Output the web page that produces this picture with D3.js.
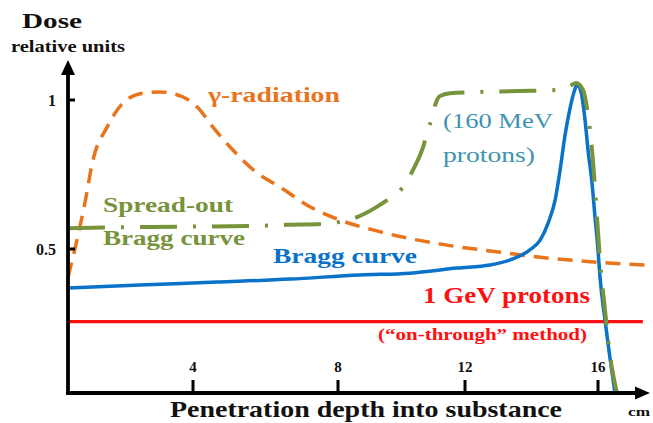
<!DOCTYPE html>
<html>
<head>
<meta charset="utf-8">
<script src="https://cdn.jsdelivr.net/npm/d3@7"></script>
<style>
  html, body { margin: 0; padding: 0; background: #fff; }
  svg { display: block; }
  text { font-family: "Liberation Serif", "Times New Roman", serif; }
</style>
</head>
<body>
<svg id="chart" width="653" height="423"></svg>
<script>
// ---------------- DATA ----------------
// depth (cm) tick labels and y tick labels
const xTicks = [4, 8, 12, 16];
const yTicks = [0.5, 1];

// Bragg curve (160 MeV protons)
const braggDepth = [0, 2.30, 4.66, 6.68, 8.69, 10.27, 11.75, 12.75, 13.35, 13.95, 14.26, 14.50, 14.71, 14.86, 15.01, 15.16, 15.28, 15.37, 15.49, 15.61, 15.70, 15.82, 15.91, 16.00, 16.06, 16.21, 16.36, 16.51];
const braggDose  = [0.369, 0.379, 0.389, 0.399, 0.413, 0.419, 0.436, 0.446, 0.463, 0.497, 0.530, 0.587, 0.664, 0.765, 0.883, 0.973, 1.027, 1.050, 1.027, 0.933, 0.832, 0.721, 0.607, 0.497, 0.406, 0.262, 0.134, 0.017];

// gamma radiation
const gammaDepth = [0, 0.16, 0.38, 0.54, 0.80, 1.25, 1.76, 2.40, 2.94, 3.68, 4.11, 4.55, 5.10, 5.77, 6.40, 7.14, 8.06, 9.10, 10.17, 11.43, 13.0, 14.20, 15.46, 16.30, 17.50];
const gammaDose  = [0.406, 0.473, 0.574, 0.654, 0.799, 0.909, 0.990, 1.023, 1.027, 1.010, 0.977, 0.909, 0.832, 0.755, 0.708, 0.648, 0.597, 0.564, 0.537, 0.513, 0.490, 0.473, 0.460, 0.453, 0.446];

// spread-out Bragg curve
const sobpDepth = [0, 2.62, 5.57, 6.59, 7.56, 8.06, 8.60, 9.17, 9.64, 10.05, 10.36, 10.68, 10.83, 10.96, 11.06, 11.21, 11.53, 12.45, 13.65, 14.77, 15.16, 15.34, 15.55, 15.70, 15.82, 15.97, 16.06, 16.21, 16.36, 16.57];
const sobpDose  = [0.570, 0.574, 0.577, 0.581, 0.584, 0.591, 0.607, 0.638, 0.671, 0.708, 0.765, 0.842, 0.899, 0.940, 0.983, 1.013, 1.023, 1.027, 1.030, 1.034, 1.047, 1.057, 1.034, 0.950, 0.832, 0.607, 0.463, 0.295, 0.144, 0.017];

// 1 GeV protons
const gevDepth = [0, 17.35];
const gevDose  = [0.256, 0.256];

// ---------------- LAYOUT ----------------
const axisX = 68, axisY = 393, axisTop = 60, axisRight = 650;
const svg = d3.select("#chart");

const x = d3.scaleLinear().domain([0, 4, 8, 12, 16]).range([68, 193, 338, 465, 598]);
const y = d3.scaleLinear().domain([0, 1]).range([398, 100]);

const colors = {
  orange: "#E8741C",
  green: "#77933C",
  blue: "#0A72C8",
  red: "#FF1010",
  teal: "#3E93AE"
};

const zip = (a, b) => a.map((d, i) => [d, b[i]]);
const line = d3.line().x(d => x(d[0])).y(d => y(d[1])).curve(d3.curveMonotoneX);

// red line
svg.append("path").datum(zip(gevDepth, gevDose)).attr("d", d3.line().x(d => x(d[0])).y(d => y(d[1])))
  .attr("fill", "none").attr("stroke", colors.red).attr("stroke-width", 3.2);

// gamma dashed
svg.append("path").datum(zip(gammaDepth, gammaDose)).attr("d", line)
  .attr("fill", "none").attr("stroke", colors.orange).attr("stroke-width", 3.5)
  .attr("stroke-dasharray", "15,9");

// bragg
svg.append("path").datum(zip(braggDepth, braggDose)).attr("d", line)
  .attr("fill", "none").attr("stroke", colors.blue).attr("stroke-width", 3.5);

// SOBP dash-dot
svg.append("path").datum(zip(sobpDepth, sobpDose)).attr("d", line)
  .attr("fill", "none").attr("stroke", colors.green).attr("stroke-width", 4)
  .attr("stroke-dasharray", "37,16,3,16");

// ---------------- AXES ----------------
const ax = svg.append("g");
ax.append("line").attr("x1", axisX).attr("x2", axisX).attr("y1", axisTop + 12).attr("y2", axisY + 2)
  .attr("stroke", "#000").attr("stroke-width", 3.8);
ax.append("line").attr("x1", axisX - 2).attr("x2", axisRight - 13).attr("y1", axisY).attr("y2", axisY)
  .attr("stroke", "#000").attr("stroke-width", 3.8);
ax.append("path").attr("d", `M${axisX},${axisTop} L${axisX - 7},${axisTop + 15} L${axisX + 7},${axisTop + 15} Z`).attr("fill", "#000");
ax.append("path").attr("d", `M${axisRight},${axisY} L${axisRight - 15},${axisY - 6.5} L${axisRight - 15},${axisY + 6.5} Z`).attr("fill", "#000");

// x ticks
xTicks.forEach(t => {
  ax.append("line").attr("x1", x(t)).attr("x2", x(t)).attr("y1", axisY - 13).attr("y2", axisY)
    .attr("stroke", "#000").attr("stroke-width", 3);
  ax.append("text").attr("x", x(t)).attr("y", 372).attr("text-anchor", "middle")
    .attr("font-size", 15).attr("font-weight", "bold").attr("fill", "#111").text(t);
});
// y ticks
yTicks.forEach(t => {
  ax.append("line").attr("x1", axisX).attr("x2", axisX + 7).attr("y1", y(t)).attr("y2", y(t))
    .attr("stroke", "#000").attr("stroke-width", 3);
  ax.append("text").attr("x", 56).attr("y", y(t) + 5.5).attr("text-anchor", "end")
    .attr("font-size", 16).attr("font-weight", "bold").attr("fill", "#111").text(t);
});

// ---------------- TEXT ----------------
function label(txt, xx, yy, size, color, weight, len) {
  const t = svg.append("text").attr("x", xx).attr("y", yy).attr("font-size", size)
    .attr("font-weight", weight).attr("fill", color).text(txt);
  if (len) t.attr("textLength", len).attr("lengthAdjust", "spacingAndGlyphs");
  return t;
}
label("Dose", 22, 28, 21, "#111", "bold", 60);
label("relative units", 11, 52, 16, "#111", "bold", 114);
label("Penetration depth into substance", 170, 417, 23, "#111", "bold", 392);
label("cm", 628, 416, 12, "#111", "bold", 22);

label("γ-radiation", 208, 102, 22, colors.orange, "bold", 132);
label("Spread-out", 103, 212, 22, colors.green, "bold", 130);
label("Bragg curve", 103, 245, 22, colors.green, "bold", 142);
label("Bragg curve", 273, 263, 22, colors.blue, "bold", 144);
label("(160 MeV", 443, 128, 21, colors.teal, "normal", 110);
label("protons)", 443, 162, 21, colors.teal, "normal", 92);
label("1 GeV protons", 423, 303, 23, colors.red, "bold", 167);
label("(“on-through” method)", 378, 340, 16, colors.red, "bold", 209);
</script>
</body>
</html>
